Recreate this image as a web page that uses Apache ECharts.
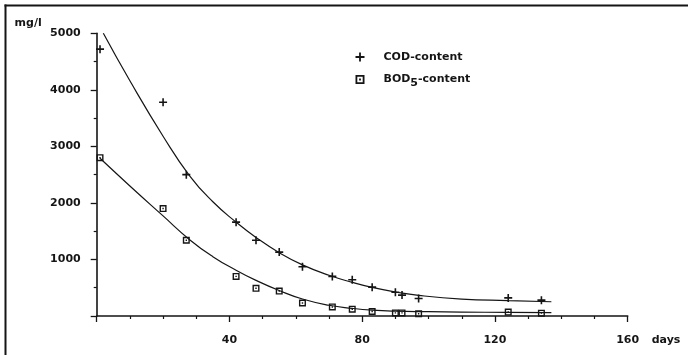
<!DOCTYPE html>
<html>
<head>
<meta charset="utf-8">
<script src="https://cdn.jsdelivr.net/npm/echarts@6/dist/echarts.min.js"></script>
<style>
  html, body { margin: 0; padding: 0; background: #fff; }
  #chart { width: 688px; height: 355px; }
</style>
</head>
<body>
<div id="chart"></div>
<script>
// measured points (days, mg/l)
const codDays = [1, 20, 27, 42, 48, 55, 62, 71, 77, 83, 90, 92, 97, 124, 134];
const codValues = [4720, 3780, 2500, 1660, 1340, 1130, 870, 700, 640, 510, 420, 370, 310, 320, 280];
const bodDays = [1, 20, 27, 42, 48, 55, 62, 71, 77, 83, 90, 92, 97, 124, 134];
const bodValues = [2800, 1900, 1340, 700, 490, 440, 230, 160, 120, 80, 55, 55, 40, 70, 50];

// fitted curves
const codCurveDays = [2, 10, 20, 28, 35, 42, 48, 55, 62, 70, 77, 83, 90, 97, 110, 124, 137];
const codCurveValues = [5000, 4160, 3180, 2480, 2020, 1660, 1390, 1120, 905, 720, 595, 505, 425, 365, 300, 272, 252];
const bodCurveDays = [1, 10, 20, 28, 35, 42, 48, 55, 62, 70, 77, 83, 90, 100, 110, 124, 137];
const bodCurveValues = [2790, 2300, 1770, 1350, 1050, 810, 630, 450, 300, 190, 135, 103, 85, 76, 70, 64, 60];

const xTicks = [40, 80, 120, 160];
const yTicks = [1000, 2000, 3000, 4000, 5000];

const ink = "#151515";
const font = "DejaVu Sans";
const plusPath = "path://M4,0H6V4H10V6H6V10H4V6H0V4H4Z";
const boxPath = "path://M0,0H10V10H0Z M2,2V8H8V2Z M4,4H6V6H4Z";

const zip = (xs, ys) => xs.map((x, i) => [x, ys[i]]);

const chart = echarts.init(document.getElementById("chart"), null, { renderer: "canvas" });
chart.setOption({
  backgroundColor: "#fff",
  animation: false,
  textStyle: { fontFamily: font, fontWeight: "bold", color: ink },
  grid: { left: 96.7, right: 60.3, top: 33.3, bottom: 39 },
  legend: {
    orient: "vertical",
    left: 355.5,
    top: 51.5,
    padding: 0,
    itemWidth: 9,
    itemHeight: 9,
    itemGap: 11.5,
    selectedMode: false,
    data: [
      { name: "COD-content", icon: plusPath },
      { name: "BOD5-content", icon: boxPath },
    ],
    formatter: (name) => (name === "BOD5-content" ? "BOD{s|5}-content" : name),
    textStyle: {
      fontFamily: font,
      fontWeight: "bold",
      fontSize: 11,
      color: ink,
      padding: [0, 0, 0, 14],
      rich: {
        s: { fontFamily: font, fontWeight: "bold", fontSize: 11, color: ink, padding: [7, 0, 0, 0] },
      },
    },
  },
  xAxis: {
    type: "value",
    min: 0,
    max: 160,
    interval: 40,
    name: "days",
    nameLocation: "end",
    nameGap: 24,
    nameTextStyle: { fontFamily: font, fontWeight: "bold", fontSize: 11, color: ink, verticalAlign: "top", padding: [19, 0, 0, 0] },
    axisLine: { show: true, lineStyle: { color: ink, width: 1.6 } },
    axisTick: { show: true, inside: false, length: 6, lineStyle: { color: ink, width: 1.3 } },
    minorTick: { show: true, splitNumber: 4, length: 3, lineStyle: { color: ink, width: 1.2 } },
    splitLine: { show: false },
    axisLabel: {
      margin: 19,
      fontFamily: font,
      fontWeight: "bold",
      fontSize: 11,
      color: ink,
      formatter: (v) => (xTicks.includes(v) ? String(v) : ""),
    },
  },
  yAxis: {
    type: "value",
    min: 0,
    max: 5000,
    interval: 1000,
    name: "mg/l",
    nameLocation: "end",
    nameGap: 5,
    nameTextStyle: { fontFamily: font, fontWeight: "bold", fontSize: 11, color: ink, align: "right", padding: [0, 55, 0, 0] },
    axisLine: { show: true, lineStyle: { color: ink, width: 1.6 } },
    axisTick: { show: true, inside: false, length: 6, lineStyle: { color: ink, width: 1.3 } },
    minorTick: { show: true, splitNumber: 2, length: 3, lineStyle: { color: ink, width: 1.2 } },
    splitLine: { show: false },
    axisLabel: {
      margin: 16,
      fontFamily: font,
      fontWeight: "bold",
      fontSize: 11,
      color: ink,
      formatter: (v) => (yTicks.includes(v) ? String(v) : ""),
    },
  },
  graphic: [
    { type: "line", shape: { x1: 5.5, y1: 4.5, x2: 5.5, y2: 355 }, style: { stroke: ink, lineWidth: 2 }, silent: true },
    { type: "line", shape: { x1: 4.5, y1: 5.5, x2: 688, y2: 5.5 }, style: { stroke: ink, lineWidth: 2 }, silent: true },
  ],
  series: [
    {
      name: "COD curve",
      type: "line",
      data: zip(codCurveDays, codCurveValues),
      smooth: 0.5,
      showSymbol: false,
      lineStyle: { color: ink, width: 1.2 },
      z: 2,
    },
    {
      name: "BOD curve",
      type: "line",
      data: zip(bodCurveDays, bodCurveValues),
      smooth: 0.5,
      showSymbol: false,
      lineStyle: { color: ink, width: 1.2 },
      z: 2,
    },
    {
      name: "COD-content",
      type: "scatter",
      data: zip(codDays, codValues),
      symbol: plusPath,
      symbolSize: 8,
      itemStyle: { color: ink, opacity: 1 },
      z: 3,
    },
    {
      name: "BOD5-content",
      type: "scatter",
      data: zip(bodDays, bodValues),
      symbol: boxPath,
      symbolSize: 7,
      itemStyle: { color: ink, opacity: 1 },
      z: 3,
    },
  ],
});
</script>
</body>
</html>
